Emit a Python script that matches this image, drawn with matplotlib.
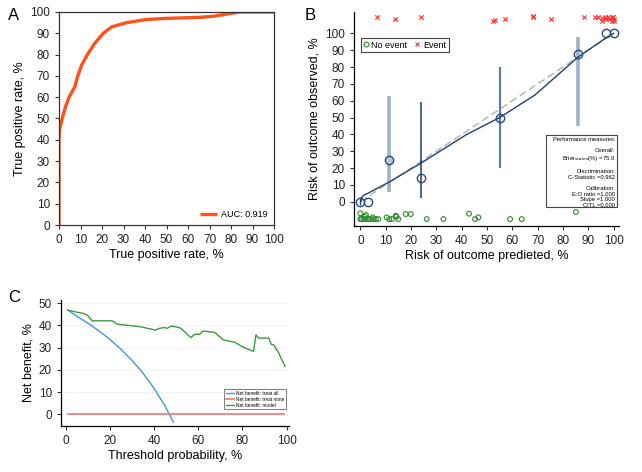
import matplotlib
matplotlib.use("Agg")
import matplotlib.pyplot as plt
from matplotlib.lines import Line2D

plt.rcParams['font.family'] = ['Liberation Sans', 'DejaVu Sans']
plt.rcParams['axes.linewidth'] = 0.9
plt.rcParams['xtick.major.width'] = 0.8
plt.rcParams['ytick.major.width'] = 0.8

# ---------------- Panel A: ROC ----------------
roc_fpr = [0, 0, 0.3, 1.0, 2.0, 3.2, 4.7, 7.4, 8.7, 10.5, 13.2, 16.4, 20.6, 24.5, 31.5,
           40.8, 50, 65.6, 71.8, 78, 84, 100]
roc_tpr = [0, 40, 45, 48, 52, 56, 60, 65, 70, 75, 80, 85, 90, 93, 95,
           96.5, 97, 97.5, 98, 99, 100, 100]
auc_label = "AUC: 0.919"

# ---------------- Panel B: calibration ----------------
grp_pred = [0, 3, 11.5, 24, 55, 86, 97, 100]
grp_obs = [0, 0, 25, 14, 50, 87.5, 100, 100]
ci_x = [0, 11.5, 24, 55, 86]
ci_lo = [-2, 6, 2, 20, 45]
ci_hi = [3, 63, 59, 80, 98]
smooth_x = [0.2, 0.5, 1.5, 3, 11.7, 24, 42, 55, 69, 86, 97.6, 100]
smooth_y = [0, 2.5, 4, 5, 12, 23, 40, 50, 63.5, 86, 98, 100]

noevent_x = [0, 0, 0.5, 1.2, 1.8, 2.2, 2.5, 3.2, 3.8, 4.9, 5.1, 6.1, 7.1, 10.4, 11.4,
             12.4, 14, 14.3, 15, 17.9, 19.9, 26.2, 32.8, 42.9, 45.3, 46.6, 59.1, 63.7, 85.1]
noevent_y = [-6.9, -10.3, -10.3, -10.3, -8.9, -7.9, -10.3, -10.3, -10.3, -9.3, -10.3, -10.3, -10.3, -9.3, -10.3,
             -10.3, -8.3, -8.9, -10.3, -7.3, -7.3, -10.3, -10.3, -7.1, -10.3, -9.3, -10.3, -10.3, -6.1]
event_x = [6.7, 13.7, 23.8, 52.5, 53.0, 57.1, 68.0, 68.3, 75.4, 88.4, 92.6, 93.9, 95.3, 95.5,
           96.6, 96.8, 97.9, 98.1, 99.2, 99.4, 99.9, 100, 100]
event_y = [110, 108.7, 110, 107.6, 108.0, 108.7, 110, 110.4, 108.6, 110, 110, 110, 108.9, 107.6,
           110, 108.7, 110, 108.7, 110, 107.6, 110, 108.7, 107.6]
perf_lines = ["Performance measures:", "", "Overall:", r"Brier$_{scaled}$(%) =75.0", "",
              "Discrimination:", "C-Statistic =0.962", "", "Calibration:",
              "E:O ratio =1.000", "Slope =1.000", "CITL =0.000"]

# ---------------- Panel C: decision curve ----------------
all_x = [1, 5, 10, 15, 20, 25, 30, 35, 40, 45, 48.8]
all_y = [47.0, 44.2, 41.1, 37.6, 33.8, 29.3, 24.3, 18.5, 11.7, 3.6, -3.6]
none_x = [1, 99]
none_y = [0, 0]
model_x = [1, 5, 8.1, 10, 11.1, 12, 20.9, 22, 23.2, 33.9, 40.7, 42, 44.5, 46, 47.6, 49.9, 52,
           54, 56.7, 58.3, 60.6, 62.1, 67.4, 71.3, 76.6, 79.7, 85, 86.1, 87.3, 91.9, 93, 94.1,
           96.4, 97.6, 99.2]
model_y = [46.9, 46.0, 45.4, 44.5, 43.2, 42.1, 42.1, 41.5, 40.6, 39.4, 37.9, 38.6, 39.1, 38.7, 39.7, 39.4, 38.8,
           37.0, 34.5, 36.0, 36.0, 37.5, 36.9, 33.5, 32.4, 30.5, 28.3, 35.8, 34.3, 34.3, 31.5, 31.3,
           27.6, 24.9, 21.6]
legend_c = ["Net benefit: treat all", "Net benefit: treat none", "Net benefit: model"]

fig = plt.figure(figsize=(6.42, 4.72), dpi=100)

tick_fs = 8.5
lab_fs = 9

# Panel A
axA = fig.add_axes([0.0919, 0.5233, 0.3349, 0.4513])
axA.plot(roc_fpr, roc_tpr, color='#FF5219', lw=2.4, solid_capstyle='butt', label=auc_label)
axA.set_xlim(0, 100)
axA.set_ylim(0, 100)
axA.set_xticks(range(0, 101, 10))
axA.set_yticks(range(0, 101, 10))
axA.tick_params(labelsize=tick_fs, length=3, color='#333333', labelcolor='#222222')
axA.set_xlabel("True positive rate, %", fontsize=lab_fs, labelpad=2)
axA.set_ylabel("True positive rate, %", fontsize=lab_fs, labelpad=3)
axA.legend(loc='lower right', frameon=False, fontsize=6.5, handlelength=1.8,
           handletextpad=0.5, borderaxespad=0.3)
for s in axA.spines.values():
    s.set_color('#333333')
fig.text(0.012, 0.982, "A", fontsize=12, va='top', ha='left')

# Panel B
axB = fig.add_axes([0.5514, 0.5212, 0.4128, 0.4534])
axB.plot([0, 100], [0, 100], color='#AAAAAA', lw=0.9, ls=(0, (6, 3)))
ci_colors = ['#2B4C7E', '#9FB3CB', '#2B4C7E', '#5F7DA3', '#9FB3CB']
ci_widths = [1.0, 2.6, 1.2, 1.6, 2.6]
for x, lo, hi, c, w in zip(ci_x, ci_lo, ci_hi, ci_colors, ci_widths):
    axB.plot([x, x], [lo, hi], color=c, lw=w, solid_capstyle='butt')
axB.plot(smooth_x, smooth_y, color='#1F3F73', lw=1.0)
face = ['none', 'none', '#B8C6D8', 'none', 'none', 'none', 'none', 'none']
for x, y, f in zip(grp_pred, grp_obs, face):
    axB.plot(x, y, 'o', ms=6, mfc=f, mec='#2B4C7E', mew=1.0)
axB.scatter(noevent_x, noevent_y, s=12, facecolors='none', edgecolors='#2E8B2E', linewidths=0.8)
axB.scatter(event_x, event_y, s=10, marker='x', color='#FF3030', linewidths=0.8)
axB.set_xlim(-2.5, 102.1)
axB.set_ylim(-14.4, 112.7)
axB.set_xticks(range(0, 101, 10))
axB.set_yticks(range(0, 101, 10))
axB.spines['top'].set_visible(False)
axB.spines['right'].set_visible(False)
axB.tick_params(labelsize=tick_fs, length=3, color='#333333', labelcolor='#222222')
axB.set_xlabel("Risk of outcome predieted, %", fontsize=lab_fs, labelpad=2)
axB.set_ylabel("Risk of outcome observed, %", fontsize=lab_fs, labelpad=3)
hB = [Line2D([], [], ls='none', marker='o', ms=3.5, mfc='none', mec='#2E8B2E', mew=0.8),
      Line2D([], [], ls='none', marker='x', ms=3.5, color='#FF3030', mew=0.8)]
legB = axB.legend(hB, ["No event", "Event"], loc='upper left', bbox_to_anchor=(0.008, 0.9),
                  fontsize=6.5, ncol=2, handlelength=0.6, handletextpad=0.3, columnspacing=0.8,
                  borderpad=0.3, fancybox=False, framealpha=1, edgecolor='#444444')
legB.get_frame().set_linewidth(0.8)
axB.add_patch(plt.Rectangle((0.725, 0.089), 0.267, 0.336, transform=axB.transAxes,
                            fill=False, ec='#444444', lw=0.8))
axB.text(0.985, 0.415, "\n".join(perf_lines), transform=axB.transAxes, ha='right', va='top',
         fontsize=4.2, linespacing=1.15, multialignment='right')
fig.text(0.474, 0.982, "B", fontsize=12, va='top', ha='left')

# Panel C
axC = fig.add_axes([0.095, 0.0975, 0.355, 0.267])
for y in range(0, 51, 10):
    axC.axhline(y, color='#EEF3F0', lw=0.6, zorder=0)
axC.plot(all_x, all_y, color='#3A9AE0', lw=1.0, label=legend_c[0])
axC.plot(none_x, none_y, color='#F08080', lw=1.3, label=legend_c[1])
axC.plot(model_x, model_y, color='#3C9A3C', lw=1.0, label=legend_c[2])
axC.set_xlim(-2.1, 101)
axC.set_ylim(-5.3, 51.5)
axC.set_xticks(range(0, 101, 20))
axC.set_yticks(range(0, 51, 10))
axC.spines['top'].set_visible(False)
axC.spines['right'].set_visible(False)
axC.tick_params(labelsize=tick_fs, length=3, color='#333333', labelcolor='#222222')
axC.set_xlabel("Threshold probability, %", fontsize=lab_fs, labelpad=2)
axC.set_ylabel("Net benefit, %", fontsize=lab_fs, labelpad=3)
legC = axC.legend(loc='lower left', bbox_to_anchor=(0.706, 0.115), fontsize=3.4,
                  handlelength=1.8, handletextpad=0.4, borderpad=0.3, labelspacing=0.2,
                  fancybox=False, framealpha=1, edgecolor='#666666')
legC.get_frame().set_linewidth(0.6)
fig.text(0.012, 0.385, "C", fontsize=12, va='top', ha='left')

fig.savefig("out.png", dpi=100)
